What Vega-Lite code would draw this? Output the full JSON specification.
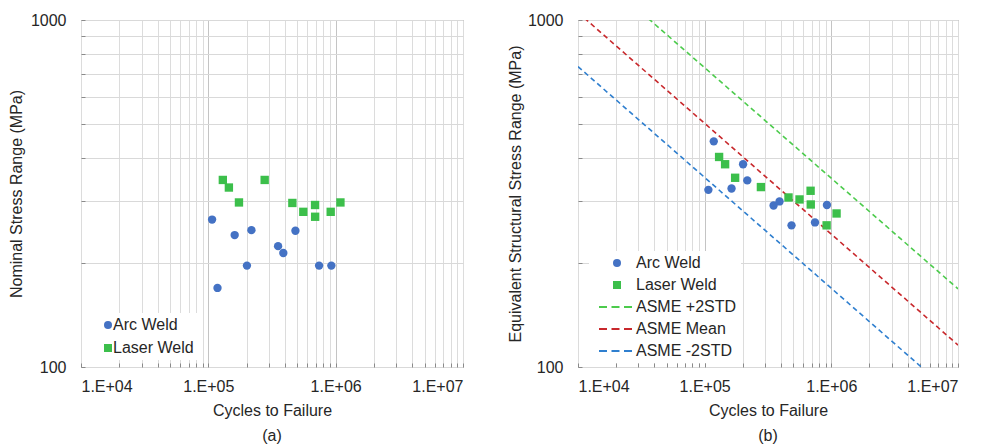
{
  "$schema": "https://vega.github.io/schema/vega-lite/v6.json",
  "padding": {"left": 7, "top": 11, "right": 5, "bottom": 0},
  "background": "white",
  "config": {
    "font": "Liberation Sans",
    "view": {"stroke": "#8a8a8a", "strokeWidth": 1},
    "axis": {
      "labelFontSize": 16, "titleFontSize": 16, "labelColor": "#262626", "titleColor": "#262626",
      "titleFontWeight": "normal", "domain": false, "ticks": true, "tickSize": -4, "tickColor": "#8a8a8a", "tickWidth": 1,
      "gridColor": "#d9d9d9", "gridWidth": 1,
      "labelOverlap": false, "labelFont": "Liberation Sans", "titleFont": "Liberation Sans"
    },
    "legend": {"labelFontSize": 16, "labelColor": "#262626", "labelFont": "Liberation Sans"},
    "title": {"fontSize": 16, "fontWeight": "normal", "color": "#262626", "font": "Liberation Sans"}
  },
  "datasets": {
    "left": [
      {"cycles": 107000, "stress": 266, "series": "Arc Weld"},
      {"cycles": 118000, "stress": 169, "series": "Arc Weld"},
      {"cycles": 161000, "stress": 240, "series": "Arc Weld"},
      {"cycles": 218000, "stress": 248, "series": "Arc Weld"},
      {"cycles": 201000, "stress": 196, "series": "Arc Weld"},
      {"cycles": 353000, "stress": 223, "series": "Arc Weld"},
      {"cycles": 388000, "stress": 213, "series": "Arc Weld"},
      {"cycles": 483000, "stress": 247, "series": "Arc Weld"},
      {"cycles": 741000, "stress": 196, "series": "Arc Weld"},
      {"cycles": 925000, "stress": 196, "series": "Arc Weld"},
      {"cycles": 130000, "stress": 346, "series": "Laser Weld"},
      {"cycles": 145000, "stress": 329, "series": "Laser Weld"},
      {"cycles": 174000, "stress": 298, "series": "Laser Weld"},
      {"cycles": 277000, "stress": 346, "series": "Laser Weld"},
      {"cycles": 457000, "stress": 297, "series": "Laser Weld"},
      {"cycles": 557000, "stress": 280, "series": "Laser Weld"},
      {"cycles": 689000, "stress": 293, "series": "Laser Weld"},
      {"cycles": 690000, "stress": 271, "series": "Laser Weld"},
      {"cycles": 914000, "stress": 280, "series": "Laser Weld"},
      {"cycles": 1090000, "stress": 298, "series": "Laser Weld"}
    ],
    "right": [
      {"cycles": 118000, "stress": 447, "series": "Arc Weld"},
      {"cycles": 107000, "stress": 324, "series": "Arc Weld"},
      {"cycles": 163000, "stress": 327, "series": "Arc Weld"},
      {"cycles": 201000, "stress": 384, "series": "Arc Weld"},
      {"cycles": 217000, "stress": 345, "series": "Arc Weld"},
      {"cycles": 350000, "stress": 292, "series": "Arc Weld"},
      {"cycles": 390000, "stress": 300, "series": "Arc Weld"},
      {"cycles": 485000, "stress": 256, "series": "Arc Weld"},
      {"cycles": 743000, "stress": 261, "series": "Arc Weld"},
      {"cycles": 923000, "stress": 293, "series": "Arc Weld"},
      {"cycles": 130000, "stress": 403, "series": "Laser Weld"},
      {"cycles": 145000, "stress": 384, "series": "Laser Weld"},
      {"cycles": 174000, "stress": 351, "series": "Laser Weld"},
      {"cycles": 278000, "stress": 330, "series": "Laser Weld"},
      {"cycles": 459000, "stress": 308, "series": "Laser Weld"},
      {"cycles": 561000, "stress": 304, "series": "Laser Weld"},
      {"cycles": 686000, "stress": 322, "series": "Laser Weld"},
      {"cycles": 688000, "stress": 294, "series": "Laser Weld"},
      {"cycles": 918000, "stress": 256, "series": "Laser Weld"},
      {"cycles": 1100000, "stress": 277, "series": "Laser Weld"}
    ],
    "lines": [
      {"cycles": 10000, "stress": 1517, "series": "ASME +2STD"},
      {"cycles": 10000000, "stress": 168, "series": "ASME +2STD"},
      {"cycles": 10000, "stress": 1051, "series": "ASME Mean"},
      {"cycles": 10000000, "stress": 115.7, "series": "ASME Mean"},
      {"cycles": 10000, "stress": 734, "series": "ASME -2STD"},
      {"cycles": 10000000, "stress": 80.8, "series": "ASME -2STD"}
    ]
  },
  "bounds": "flush",
  "spacing": 115,
  "resolve": {
    "scale": {"color": "independent", "shape": "independent"},
    "legend": {"color": "independent", "shape": "independent"}
  },
  "hconcat": [
    {
      "width": 382,
      "height": 347,
      "title": {"text": "(a)", "orient": "bottom", "offset": 10},
      "data": {"name": "left"},
      "mark": {"type": "point", "filled": true, "opacity": 1, "size": 70},
      "encoding": {
        "x": {
          "field": "cycles", "type": "quantitative",
          "scale": {"type": "log", "domain": [10000, 10000000]},
          "axis": {
            "title": "Cycles to Failure", "labelPadding": 15, "titlePadding": 8,
            "values": [10000,20000,30000,40000,50000,60000,70000,80000,90000,100000,200000,300000,400000,500000,600000,700000,800000,900000,1000000,2000000,3000000,4000000,5000000,6000000,7000000,8000000,9000000,10000000],
            "labelExpr": "datum.value == 10000 ? '1.E+04' : datum.value == 100000 ? '1.E+05' : datum.value == 1000000 ? '1.E+06' : datum.value == 10000000 ? '1.E+07' : ''",
            "gridColor": {"condition": {"test": "datum.value == 100000 || datum.value == 1000000", "value": "#c4c4c4"}, "value": "#dcdcdc"}
          }
        },
        "y": {
          "field": "stress", "type": "quantitative",
          "scale": {"type": "log", "domain": [100, 1000]},
          "axis": {
            "title": "Nominal Stress Range (MPa)", "labelPadding": 19, "titlePadding": 6,
            "values": [100,200,300,400,500,600,700,800,900,1000],
            "labelExpr": "datum.value == 100 ? '100' : datum.value == 1000 ? '1000' : ''"
          }
        },
        "color": {
          "field": "series", "type": "nominal",
          "scale": {"domain": ["Arc Weld", "Laser Weld"], "range": ["#4472c4", "#3cbf4b"]},
          "legend": {"title": null, "orient": "none", "legendX": 15, "legendY": 293, "fillColor": "white", "padding": 4, "symbolSize": 64, "labelOffset": -3, "rowPadding": 7, "labelFontSize": 16}
        },
        "shape": {
          "field": "series", "type": "nominal",
          "scale": {"domain": ["Arc Weld", "Laser Weld"], "range": ["circle", "square"]},
          "legend": {"title": null, "orient": "none", "legendX": 15, "legendY": 293, "fillColor": "white", "padding": 4, "symbolSize": 64, "labelOffset": -3, "rowPadding": 7, "labelFontSize": 16}
        }
      }
    },
    {
      "width": 380,
      "height": 347,
      "title": {"text": "(b)", "orient": "bottom", "offset": 10},
      "layer": [
        {
          "data": {"name": "lines"},
          "mark": {"type": "line", "clip": true, "strokeDash": [5, 3.5], "strokeWidth": 1.6},
          "encoding": {
            "x": {
              "field": "cycles", "type": "quantitative",
              "scale": {"type": "log", "domain": [10000, 10000000]},
              "axis": {
                "title": "Cycles to Failure", "labelPadding": 15, "titlePadding": 8,
                "values": [10000,20000,30000,40000,50000,60000,70000,80000,90000,100000,200000,300000,400000,500000,600000,700000,800000,900000,1000000,2000000,3000000,4000000,5000000,6000000,7000000,8000000,9000000,10000000],
                "labelExpr": "datum.value == 10000 ? '1.E+04' : datum.value == 100000 ? '1.E+05' : datum.value == 1000000 ? '1.E+06' : datum.value == 10000000 ? '1.E+07' : ''",
                "gridColor": {"condition": {"test": "datum.value == 100000 || datum.value == 1000000", "value": "#c4c4c4"}, "value": "#dcdcdc"}
              }
            },
            "y": {
              "field": "stress", "type": "quantitative",
              "scale": {"type": "log", "domain": [100, 1000]},
              "axis": {
                "title": "Equivalent Structural Stress Range (MPa)", "labelPadding": 19, "titlePadding": 4,
                "values": [100,200,300,400,500,600,700,800,900,1000],
                "labelExpr": "datum.value == 100 ? '100' : datum.value == 1000 ? '1000' : ''"
              }
            },
            "color": {
              "field": "series", "type": "nominal",
              "scale": {"domain": ["ASME +2STD", "ASME Mean", "ASME -2STD", "Arc Weld", "Laser Weld"], "range": ["#4ccb4c", "#c8282c", "#2f7fcf", "#4472c4", "#3cbf4b"]},
              "legend": null
            }
          }
        },
        {
          "data": {"name": "right"},
          "mark": {"type": "point", "filled": true, "opacity": 1, "size": 70},
          "encoding": {
            "x": {"field": "cycles", "type": "quantitative"},
            "y": {"field": "stress", "type": "quantitative"},
            "color": {"field": "series", "type": "nominal", "legend": null},
            "shape": {
              "field": "series", "type": "nominal",
              "scale": {"domain": ["Arc Weld", "Laser Weld", "ASME +2STD", "ASME Mean", "ASME -2STD"], "range": ["circle", "square", "M-4.5,0H4.5", "M-4.5,0H4.5", "M-4.5,0H4.5"]},
              "legend": {
                "title": null, "orient": "none", "legendX": 11, "legendY": 231, "fillColor": "white", "padding": 4,
                "symbolSize": 64, "symbolOffset": 16, "labelOffset": 11, "rowPadding": 6, "labelFontSize": 16,
                "encoding": {"symbols": {
                  "fill": {"value": {"expr": "datum.value == 'Arc Weld' ? '#4472c4' : datum.value == 'Laser Weld' ? '#3cbf4b' : 'transparent'"}},
                  "stroke": {"value": {"expr": "datum.value == 'ASME +2STD' ? '#4ccb4c' : datum.value == 'ASME Mean' ? '#c8282c' : datum.value == 'ASME -2STD' ? '#2f7fcf' : 'transparent'"}},
                  "strokeWidth": {"value": 2},
                  "strokeDash": {"value": [8, 4.5]},
                  "opacity": {"value": 1}
                }}
              }
            }
          }
        }
      ]
    }
  ]
}
